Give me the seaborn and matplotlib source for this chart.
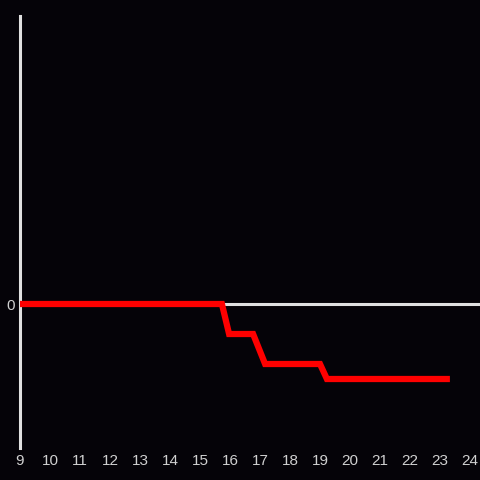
import matplotlib
matplotlib.use('Agg')
import matplotlib.pyplot as plt
import seaborn as sns
import pandas as pd

# Данные (часы и значение)
hours = [9.0, 15.73, 15.97, 16.77, 17.17, 19.0, 19.23, 23.33]
values = [0, 0, -2, -2, -4, -4, -5, -5]
hour_ticks = list(range(9, 25))

df = pd.DataFrame({'hour': hours, 'value': values})

sns.set_theme(style='dark')
plt.rcParams['font.family'] = ['Liberation Sans', 'DejaVu Sans']

bg = '#050308'
fig = plt.figure(figsize=(4.8, 4.8), dpi=100, facecolor=bg)
ax = fig.add_axes([20 / 480, 32 / 480, 460 / 480, 432 / 480])
ax.set_facecolor(bg)

ax.axhline(0, color='#e0e0e0', lw=2.2, zorder=1)
sns.lineplot(data=df, x='hour', y='value', color='#ff0000', lw=4.5,
             ax=ax, zorder=3, solid_capstyle='butt', solid_joinstyle='miter')

ax.set_xlim(9, 9 + 460 / 30)
ax.set_ylim(-9.6, 19.2)
ax.set_xticks(hour_ticks)
ax.set_xticklabels([str(h) for h in hour_ticks])
ax.set_yticks([0])
ax.set_yticklabels(['0'])
ax.tick_params(colors='#d0d0d0', labelsize=11, length=0, pad=4)
ax.set_xlabel('')
ax.set_ylabel('')
ax.grid(False)

for side in ['top', 'right', 'bottom']:
    ax.spines[side].set_visible(False)
ax.spines['left'].set_color('#e0e0e0')
ax.spines['left'].set_linewidth(2.2)

plt.savefig('out.png', facecolor=bg)
plt.close()
